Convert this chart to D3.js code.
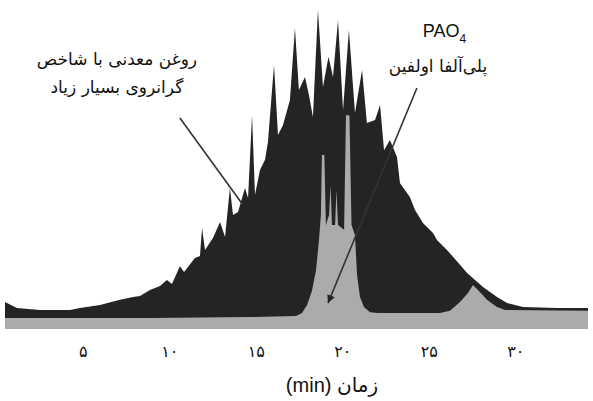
<!DOCTYPE html>
<html>
<head>
<meta charset="utf-8">
<title>Chromatogram</title>
<script src="https://cdn.jsdelivr.net/npm/d3@7"></script>
<style>
  body { margin: 0; background: #fff; }
</style>
</head>
<body>
<div id="container"></div>
<script>
// mineral oil trace (retention time in min, relative signal)
const oilTime = [0.5, 1.19, 2.52, 4.26, 4.83, 5.99, 7.15, 7.90, 8.30, 8.88, 9.46, 9.86, 10.15, 10.61, 10.85,
  11.48, 11.77, 11.89, 12.06, 12.52, 12.93, 13.22, 13.50, 13.68, 13.97, 14.37, 14.55, 14.78, 14.95, 15.24,
  15.53, 15.70, 16.05, 16.28, 16.57, 16.97, 17.26, 17.49, 17.84, 18.07, 18.30, 18.59, 18.88, 19.20, 19.46, 19.75,
  20.04, 20.38, 20.73, 21.14, 21.42, 21.89, 22.18, 22.41, 22.75, 23.16, 23.33, 23.91, 24.20, 24.66, 25.24,
  25.47, 26.05, 26.80, 27.21, 28.13, 28.94, 29.52, 30.44, 32.41, 34.2];
const oilSignal = [8.3, 6.5, 5.9, 5.9, 6.5, 7.4, 9.0, 9.9, 10.2, 12.0, 13.3, 15.1, 13.9, 19.4, 17.6,
  21.9, 22.5, 31.2, 24.4, 28.1, 33.0, 28.4, 43.5, 35.2, 36.1, 43.5, 40.4, 66.0, 41.4, 49.1,
  52.2, 57.7, 81.5, 59.9, 63.0, 70.7, 92.9, 73.8, 77.8, 72.2, 65.4, 98.5, 74.7, 84.0, 77.8, 95.4,
  67.6, 92.3, 66.7, 79.9, 63.6, 64.5, 69.1, 55.2, 58.3, 53.1, 45.1, 40.7, 36.7, 32.7, 29.6,
  27.5, 24.4, 19.8, 17.3, 13.0, 9.9, 8.0, 6.8, 6.5, 6.5];

// PAO4 trace
const paoTime = [0.5, 8.88, 14.66, 17.32, 17.67, 17.96, 18.24, 18.48, 18.65, 18.76, 18.82, 18.96, 19.05,
  19.23, 19.32, 19.40, 19.58, 19.66, 19.75, 20.10, 20.21, 20.41, 20.53, 20.73, 20.85, 21.02, 21.25, 21.60,
  22.06, 25.64, 26.22, 26.80, 27.26, 27.55, 27.84, 28.36, 28.94, 29.40, 34.2];
const paoSignal = [3.4, 3.4, 3.7, 4.0, 4.9, 7.4, 11.7, 18.2, 27.5, 35.2, 53.7, 53.7, 32.1,
  35.2, 44.4, 32.1, 32.1, 42.9, 32.1, 30.6, 66.0, 66.0, 32.1, 29.0, 16.7, 9.9, 6.8, 5.2,
  4.9, 4.9, 5.6, 8.3, 11.1, 13.6, 12.0, 9.0, 6.8, 5.9, 5.6];

const tickValues = [5, 10, 15, 20, 25, 30];
const tickLabels = ["۵", "۱۰", "۱۵", "۲۰", "۲۵", "۳۰"];

const width = 593;
const height = 401;

const svg = d3.select("#container")
  .append("svg")
  .attr("width", width)
  .attr("height", height);

const x = d3.scaleLinear().domain([0.5, 34.2]).range([5, 588]);
const y = d3.scaleLinear().domain([0, 100]).range([329, 5]);

const area = d3.area()
  .x(d => x(d[0]))
  .y0(y(0))
  .y1(d => y(d[1]));

svg.append("path")
  .datum(d3.zip(oilTime, oilSignal))
  .attr("fill", "#242424")
  .attr("d", area);

svg.append("path")
  .datum(d3.zip(paoTime, paoSignal))
  .attr("fill", "#ababab")
  .attr("d", area);

// axis
const axis = svg.append("g")
  .attr("transform", `translate(0,${y(0)})`)
  .call(d3.axisBottom(x)
    .tickValues(tickValues)
    .tickSize(0)
    .tickPadding(17)
    .tickFormat((d, i) => tickLabels[i]));
axis.select(".domain").remove();
axis.selectAll("text")
  .attr("font-family", "DejaVu Sans, sans-serif")
  .attr("font-size", 16)
  .attr("fill", "#111");

svg.append("text")
  .attr("x", 332)
  .attr("y", 392)
  .attr("text-anchor", "middle")
  .style("direction", "rtl")
  .attr("font-family", "Liberation Sans, DejaVu Sans, sans-serif")
  .attr("font-size", 20)
  .attr("fill", "#111")
  .text("زمان (min)");

// annotations
svg.append("defs").append("marker")
  .attr("id", "head")
  .attr("viewBox", "0 -5 10 10")
  .attr("refX", 10)
  .attr("markerUnits", "userSpaceOnUse")
  .attr("markerWidth", 12)
  .attr("markerHeight", 8)
  .attr("orient", "auto")
  .append("path")
  .attr("d", "M0,-5L10,0L0,5Z")
  .attr("fill", "#222");

svg.append("line")
  .attr("x1", x(10.61)).attr("y1", y(65.1))
  .attr("x2", x(14.26)).attr("y2", y(38.3))
  .attr("stroke", "#333")
  .attr("stroke-width", 1.6);

svg.append("line")
  .attr("x1", x(24.31)).attr("y1", y(74.4))
  .attr("x2", x(19.17)).attr("y2", y(8.0))
  .attr("stroke", "#333")
  .attr("stroke-width", 1.6)
  .attr("marker-end", "url(#head)");

const oilLabel = svg.append("g")
  .attr("font-family", "DejaVu Sans, sans-serif")
  .attr("font-size", 17)
  .attr("fill", "#111")
  .attr("text-anchor", "middle")
  .style("direction", "rtl");
oilLabel.append("text").attr("x", x(6.97)).attr("y", y(81.5)).text("روغن معدنی با شاخص");
oilLabel.append("text").attr("x", x(6.97)).attr("y", y(72.8)).text("گرانروی بسیار زیاد");

const pao = svg.append("text")
  .attr("x", x(25.9))
  .attr("y", y(90.1))
  .attr("text-anchor", "middle")
  .attr("font-family", "Liberation Sans, sans-serif")
  .attr("font-size", 18)
  .attr("fill", "#111");
pao.append("tspan").text("PAO");
pao.append("tspan").attr("font-size", 12).attr("dy", 6).text("4");

svg.append("text")
  .attr("x", x(25.53))
  .attr("y", y(79.3))
  .attr("text-anchor", "middle")
  .style("direction", "rtl")
  .attr("font-family", "DejaVu Sans, sans-serif")
  .attr("font-size", 17)
  .attr("fill", "#111")
  .text("پلی‌آلفا اولفین");
</script>
</body>
</html>
